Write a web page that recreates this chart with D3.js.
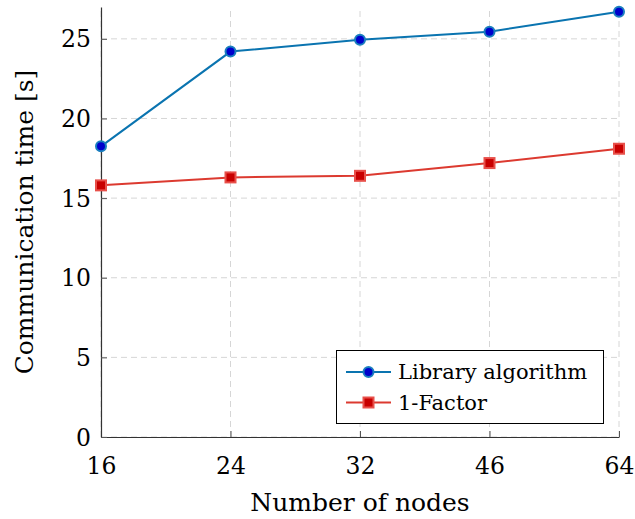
<!DOCTYPE html>
<html>
<head>
<meta charset="utf-8">
<script src="https://cdn.jsdelivr.net/npm/d3@7"></script>
<style>
  body { margin: 0; background: #fff; }
</style>
</head>
<body>
<div id="chart"></div>
<script>
// data
var nodes = ['16', '24', '32', '46', '64'];
var libraryTimes = [18.25, 24.2, 24.95, 25.45, 26.7];
var factorTimes = [15.8, 16.3, 16.4, 17.2, 18.1];
var yTicks = [0, 5, 10, 15, 20, 25];

var series = [
  {name: 'Library algorithm', values: libraryTimes, line: '#0a74b0', fill: '#0000cc', stroke: '#1a7fbf', shape: 'circle'},
  {name: '1-Factor', values: factorTimes, line: '#dc3a30', fill: '#c80000', stroke: '#e8504a', shape: 'square'}
];

var serif = 'DejaVu Serif';
var width = 635, height = 519;
// plot box (window.top is taken, so own names)
var plotLeft = 101, plotRight = 619, plotTop = 7, plotBottom = 437;

var svg = d3.select('#chart')
  .append('svg')
  .attr('width', width)
  .attr('height', height)
  .attr('font-family', serif);

var x = d3.scalePoint()
  .domain(nodes)
  .range([plotLeft, plotRight]);

var y = d3.scaleLinear()
  .domain([0, 27])
  .range([plotBottom, plotTop]);

// grid
var grid = svg.append('g');
grid.selectAll('.gx')
  .data(nodes)
  .enter()
  .append('line')
  .attr('x1', d => x(d)).attr('x2', d => x(d))
  .attr('y1', plotBottom).attr('y2', plotTop)
  .attr('stroke', '#d6d6d6')
  .attr('stroke-dasharray', '6,4');
grid.selectAll('.gy')
  .data(yTicks)
  .enter()
  .append('line')
  .attr('x1', plotLeft).attr('x2', plotRight)
  .attr('y1', d => y(d)).attr('y2', d => y(d))
  .attr('stroke', '#d6d6d6')
  .attr('stroke-dasharray', '6,4');

// axes
var xAxis = svg.append('g')
  .attr('transform', `translate(0, ${plotBottom})`)
  .call(d3.axisBottom(x).tickSizeInner(-6).tickSizeOuter(0).tickPadding(20));
var yAxis = svg.append('g')
  .attr('transform', `translate(${plotLeft}, 0)`)
  .call(d3.axisLeft(y).tickValues(yTicks).tickSizeInner(-6).tickSizeOuter(0).tickPadding(10));

[xAxis, yAxis].forEach(function(a) {
  a.attr('font-family', serif).attr('font-size', 23.5);
  a.select('.domain').attr('stroke', '#333').attr('stroke-width', 1.2);
  a.selectAll('.tick line').attr('stroke', '#555');
  a.selectAll('.tick text').attr('fill', '#000');
});
yAxis.selectAll('.tick text').attr('dy', '0.34em');

// axis labels
svg.append('text')
  .attr('x', (plotLeft + plotRight) / 2)
  .attr('y', 511)
  .attr('text-anchor', 'middle')
  .attr('font-size', 25)
  .text('Number of nodes');

svg.append('text')
  .attr('transform', `translate(33, ${(plotTop + plotBottom) / 2}) rotate(-90)`)
  .attr('text-anchor', 'middle')
  .attr('font-size', 25)
  .text('Communication time [s]');

// lines and markers
var line = d3.line()
  .x((d, i) => x(nodes[i]))
  .y(d => y(d));

function marker(g, s, cx, cy) {
  if (s.shape === 'circle') {
    g.append('circle')
      .attr('cx', cx).attr('cy', cy).attr('r', 5)
      .attr('fill', s.fill).attr('stroke', s.stroke).attr('stroke-width', 2);
  } else {
    g.append('rect')
      .attr('x', cx - 5).attr('y', cy - 5)
      .attr('width', 10).attr('height', 10)
      .attr('fill', s.fill).attr('stroke', s.stroke).attr('stroke-width', 2);
  }
}

series.forEach(function(s) {
  var g = svg.append('g');
  g.append('path')
    .attr('d', line(s.values))
    .attr('fill', 'none')
    .attr('stroke', s.line)
    .attr('stroke-width', 2);
  s.values.forEach(function(v, i) {
    marker(g, s, x(nodes[i]), y(v));
  });
});

// legend
var legend = svg.append('g');
legend.append('rect')
  .attr('x', 336.5).attr('y', 350.5)
  .attr('width', 267).attr('height', 73)
  .attr('fill', '#fff')
  .attr('stroke', '#000')
  .attr('stroke-width', 1);

series.forEach(function(s, i) {
  var ly = 372 + i * 30.5;
  legend.append('line')
    .attr('x1', 346).attr('x2', 391)
    .attr('y1', ly).attr('y2', ly)
    .attr('stroke', s.line).attr('stroke-width', 2);
  marker(legend, s, 368.5, ly);
  legend.append('text')
    .attr('x', 398).attr('y', ly)
    .attr('dy', '0.34em')
    .attr('font-size', 21)
    .text(s.name);
});
</script>
</body>
</html>
